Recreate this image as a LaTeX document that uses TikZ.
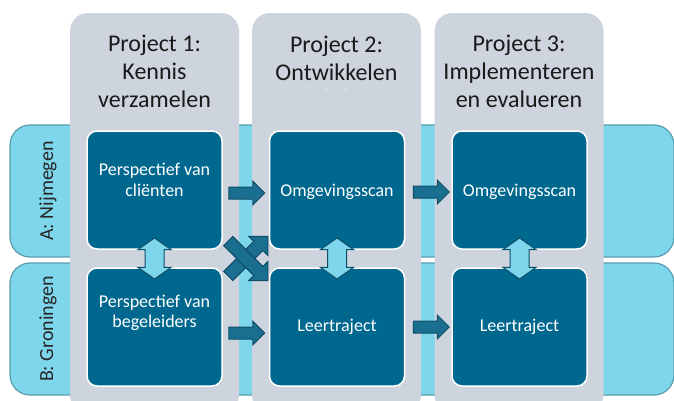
\documentclass[tikz,border=0pt]{standalone}
\usepackage{fontspec}
\setmainfont{Carlito}
\usetikzlibrary{shapes.arrows,calc}

\definecolor{laneblue}{HTML}{7ED6EC}
\definecolor{laneline}{HTML}{5A9DB0}
\definecolor{projgrey}{HTML}{CDD4DE}
\definecolor{taskblue}{HTML}{00688F}
\definecolor{flowblue}{HTML}{1A6E90}
\definecolor{flowline}{HTML}{0E4E68}

\tikzset{
  lane/.style={draw=laneline, line width=1.2pt, fill=laneblue, rounded corners=20pt,
    minimum width=664pt, minimum height=132pt, inner sep=0pt},
  lanelabel/.style={rotate=90, font=\fontsize{20}{24}\selectfont, text=black!85},
  project/.style={fill=projgrey, rounded corners=18pt, minimum width=169pt,
    minimum height=400pt, inner sep=0pt},
  projtitle/.style={align=center, font=\fontsize{24}{28}\selectfont, text=black!90},
  task/.style={draw=white, line width=1.5pt, fill=taskblue, rounded corners=10pt,
    minimum width=135pt, minimum height=118pt, inner sep=0pt},
  tasktext/.style={align=center, text=white, font=\fontsize{18}{20.5}\selectfont},
  flow/.style={single arrow, draw=flowline, fill=flowblue, line width=1pt,
    inner xsep=0pt, inner ysep=5.5pt, minimum width=24pt, minimum height=36pt,
    single arrow head extend=6pt},
  cross/.style={flow, inner ysep=6pt, minimum width=26pt, minimum height=56pt,
    single arrow head extend=7pt},
  swap/.style={double arrow, draw=flowline, fill=laneblue, line width=1pt, rotate=90,
    inner xsep=0pt, inner ysep=9pt, minimum width=33pt, minimum height=41pt,
    double arrow head extend=7pt, double arrow tip angle=110},
}

\begin{document}
\begin{tikzpicture}[x=1pt, y=-1pt]
    \useasboundingbox[fill=white] (0,0) rectangle (674,400);
    \clip (0,0) rectangle (674,400);

    % locations
    \node[lane] (laneA) at (342,191) {};
    \node[lane] (laneB) at (342,329) {};
    \node[lanelabel] (labA) at (48,191) {A: Nijmegen};
    \node[lanelabel] (labB) at (48,329) {B: Groningen};

    % projects
    \node[project] (c1) at (154.5,213) {};
    \node[project] (c2) at (336.5,213) {};
    \node[project] (c3) at (519,213) {};
    \node[projtitle] (t1) at ($(c1.north)+(0,59)$) {Project 1:\\Kennis\\verzamelen};
    \node[projtitle] (t2) at ($(c2.north)+(0,45.5)$) {Project 2:\\Ontwikkelen};
    \node[font=\fontsize{13}{13}\selectfont, text=projgrey!70!white] (stars) at (336,93) {* * *};
    \node[projtitle] (t3) at ($(c3.north)+(0,59)$) {Project 3:\\Implementeren\\en evalueren};

    \node[task] (p1a) at (154.5,190) {};
    \node[task] (p1b) at (154.5,327) {};
    \node[task] (p2a) at (337,190) {};
    \node[task] (p2b) at (337,327) {};
    \node[task] (p3a) at (519.5,190) {};
    \node[task] (p3b) at (519.5,327) {};

    \node[tasktext] at ($(p1a)+(0,-10)$) {Perspectief van\\cliënten};
    \node[tasktext] at ($(p1b)+(0,-14)$) {Perspectief van\\begeleiders};
    \node[tasktext] at ($(p2a)+(0,2)$) {Omgevingsscan};
    \node[tasktext] at (p2b) {Leertraject};
    \node[tasktext] at ($(p3a)+(0,2)$) {Omgevingsscan};
    \node[tasktext] at (p3b) {Leertraject};

    % arrows
    \node[flow] (f1a) at ($($(p1a.east)!.5!(p2a.west)$)+(-2,3)$) {};
    \node[flow] (f1b) at ($($(p1b.east)!.5!(p2b.west)$)+(-2,6)$) {};
    \node[flow] (f2a) at ($($(p2a.east)!.5!(p3a.west)$)+(0,2)$) {};
    \node[flow] (f2b) at ($(p2b.east)!.5!(p3b.west)$) {};
    \node[cross, rotate=45] (x1) at ($(p1a.south east)!.5!(p2b.north west)$) {};
    \node[cross, rotate=-45] (x2) at ($(p1a.south east)!.5!(p2b.north west)$) {};

    \node[swap] (s1) at ($(p1a.south)!.5!(p1b.north)$) {};
    \node[swap] (s2) at ($(p2a.south)!.5!(p2b.north)$) {};
    \node[swap] (s3) at ($(p3a.south)!.5!(p3b.north)$) {};
\end{tikzpicture}
\end{document}
